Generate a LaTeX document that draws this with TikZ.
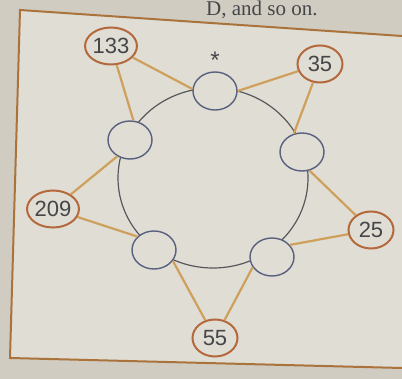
\documentclass[tikz,border=0pt]{standalone}
\usepackage{fontspec}
\setmainfont{Liberation Serif}
\newfontfamily\numfont{Liberation Sans}
\usetikzlibrary{shapes.geometric, positioning}
\definecolor{paper}{RGB}{208,204,194}
\definecolor{sheet}{RGB}{224,221,212}
\definecolor{framebrown}{RGB}{170,115,60}
\definecolor{ringred}{RGB}{180,105,60}
\definecolor{spoketan}{RGB}{206,160,92}
\definecolor{slateblue}{RGB}{88,96,128}
\definecolor{rimgray}{RGB}{88,88,92}
\definecolor{inkgray}{RGB}{70,70,72}

\begin{document}
\begin{tikzpicture}[
    x=0.5pt, y=-0.5pt,
    outer/.style={
        ellipse, draw=ringred, line width=1pt, fill=sheet,
        minimum width=22.5pt, minimum height=18.5pt, inner sep=0pt,
        font=\numfont\fontsize{11}{12}\selectfont, text=inkgray
    },
    slot/.style={
        ellipse, draw=slateblue, line width=0.7pt, fill=sheet,
        minimum width=22pt, minimum height=19pt, inner sep=0pt
    },
    spoke/.style={line width=1.1pt, spoketan}
]
    \fill[paper] (0,0) rectangle (402,379);
    \useasboundingbox (0,0) rectangle (402,379);

    %% page frame and the end of the sentence above it
    \draw[framebrown, line width=1pt, fill=sheet] (402,36) -- (20,10) -- (10,358) -- (402,368);
    \node[anchor=base east, inner sep=0pt, text=inkgray,
          font=\fontsize{10.5}{12}\selectfont] (tail) at (318,16) {D, and so on.};

    %% ring
    \draw[rimgray, line width=0.6pt] (213,178) ellipse [x radius=47.5pt, y radius=45pt];

    %% empty places on the ring
    \node[slot] (top) at (215,91) {};
    \node[slot] (upleft) at (130,140) {};
    \node[slot] (upright) at (302,152) {};
    \node[slot] (lowleft) at (154,250) {};
    \node[slot] (lowright) at (272,257) {};
    \node[above=0pt of top, font=\numfont\fontsize{12}{12}\selectfont, text=inkgray, inner sep=1pt] (mark) {*};

    %% given numbers
    \node[outer] (n133) at (111,46) {133};
    \node[outer] (n35) at (320,64) {35};
    \node[outer] (n25) at (371,230) {25};
    \node[outer] (n55) at (215,338) {55};
    \node[outer] (n209) at (53,209) {209};

    \draw[spoke] (n133) -- (top.175);
    \draw[spoke] (n133) -- (upleft.80);
    \draw[spoke] (n35) -- (top.0);
    \draw[spoke] (n35) -- (upright.114);
    \draw[spoke] (n25) -- (upright.292);
    \draw[spoke] (n25) -- (lowright.34);
    \draw[spoke] (n55) -- (lowright.208);
    \draw[spoke] (n55) -- (lowleft.330);
    \draw[spoke] (n209) -- (lowleft.141);
    \draw[spoke] (n209) -- (upleft.232);
\end{tikzpicture}
\end{document}
